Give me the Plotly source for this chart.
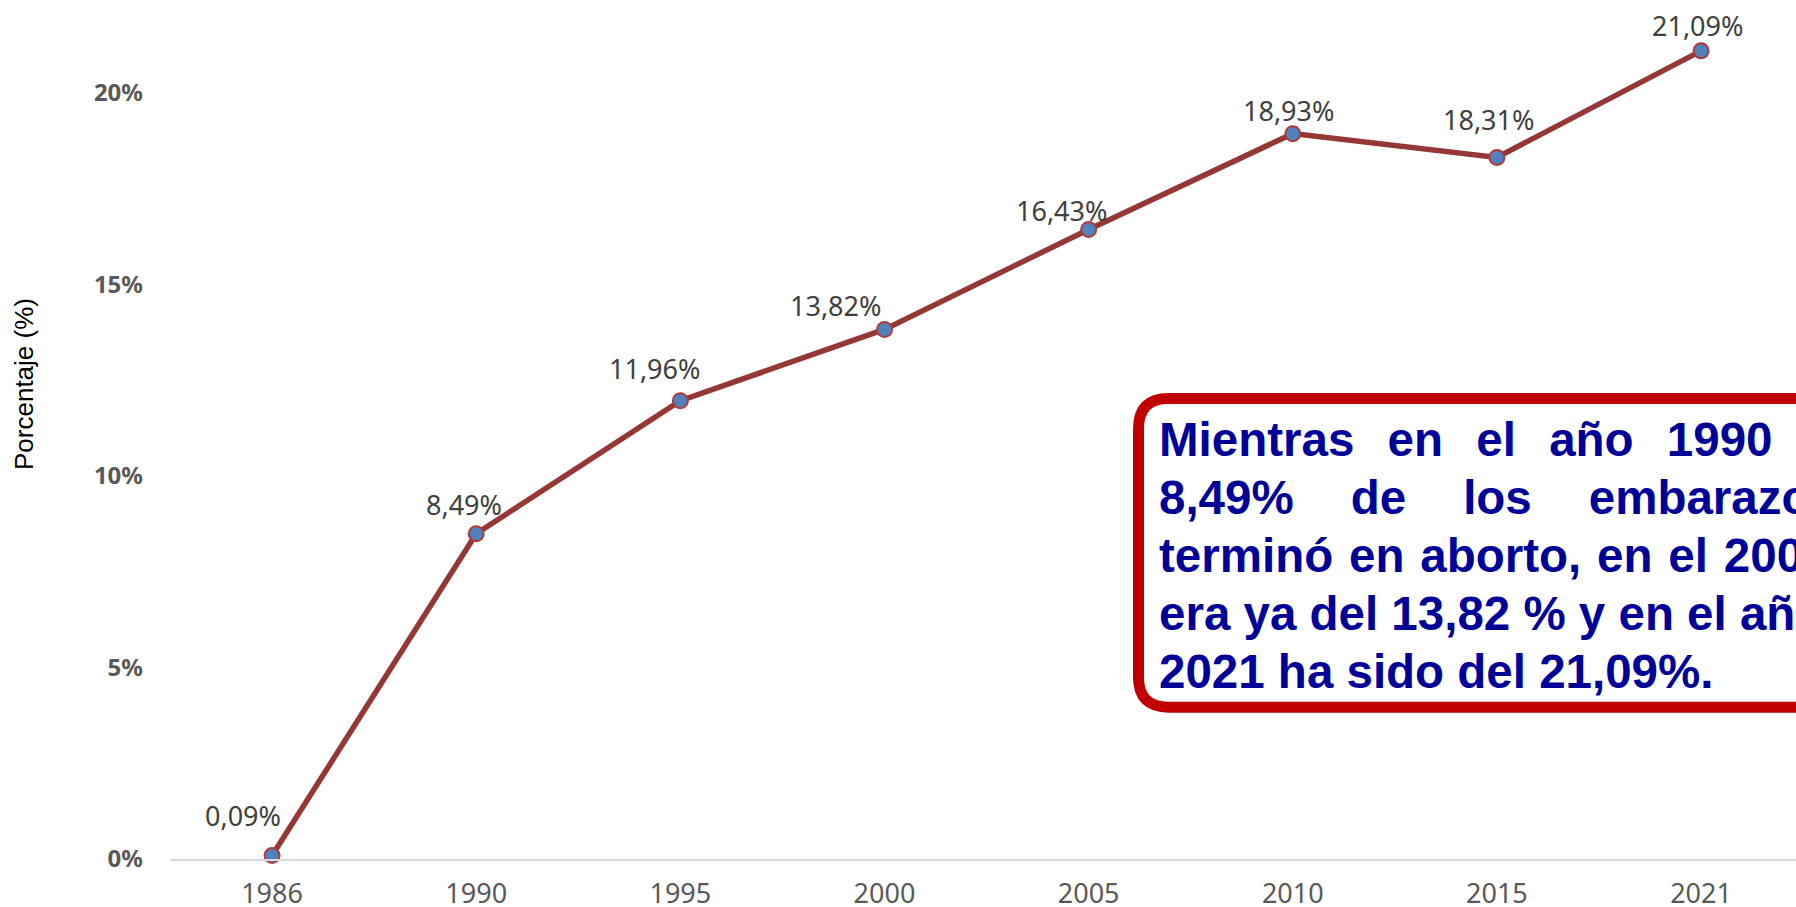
import plotly.graph_objects as go

# ---- data ----
years = ["1986", "1990", "1995", "2000", "2005", "2010", "2015", "2021"]
values = [0.09, 8.49, 11.96, 13.82, 16.43, 18.93, 18.31, 21.09]
y_ticks = [0, 5, 10, 15, 20]
y_title = "Porcentaje (%)"
box_lines = [
    "Mientras\u2002\u2009en\u2002\u2009el\u2002\u2009año\u2002\u20091990\u2002\u2009el",
    "8,49%\u2003\u2009de\u2003\u2009los\u2003\u2009embarazos",
    "terminó\u2004en\u2004aborto,\u2004en\u2004el\u20042000",
    "era ya del 13,82 % y en el año",
    "2021 ha sido del 21,09%.",
]

# ---- layout geometry (pixels) ----
W, H = 1796, 907
ML, MR, MT, MB = 170, 0, 16, 48
PW, PH = W - ML - MR, H - MT - MB


def px2x(px):
    return (px - ML) / PW


def px2y(py):
    return (H - MB - py) / PH


# label offsets (pixels, style only)
label_dx = [-29.5, -12.6, -26, -49, -27, -4, -8, -3.5]
label_dy = [39.6, 28.7, 32, 23.6, 18.6, 23.6, 38, 25.6]

fig = go.Figure()
fig.add_trace(go.Scatter(
    x=years, y=values, mode="lines+markers",
    line=dict(color="#953735", width=5.5),
    marker=dict(size=15, color="#4F81BD", line=dict(color="#B03A3A", width=2)),
    cliponaxis=False, hoverinfo="skip",
))

annotations = []
for i, (v, dx, dy) in enumerate(zip(values, label_dx, label_dy)):
    annotations.append(dict(
        x=i, y=v, xref="x", yref="y", showarrow=False,
        text=f"{v:.2f}".replace(".", ",") + "%",
        xshift=dx, yshift=dy, xanchor="center", yanchor="middle",
        font=dict(family="Noto Sans", size=27, color="#404040"),
    ))

# y-axis title
annotations.append(dict(
    x=px2x(24), y=px2y(384), xref="paper", yref="paper", showarrow=False,
    text=y_title, textangle=-90, xanchor="center", yanchor="middle",
    font=dict(family="Liberation Sans, Arial", size=26, color="#000000"),
))

# text box lines
baseline0 = 456
line_gap = 57.8
for i, t in enumerate(box_lines):
    b = baseline0 + i * line_gap
    annotations.append(dict(
        x=px2x(1157), y=px2y(b - 16), xref="paper", yref="paper", showarrow=False,
        text=t, xanchor="left", yanchor="middle", align="left",
        font=dict(family="Liberation Sans, Arial", size=47.5, color="#000099", weight="bold"),
    ))

# rounded box shape (paper coords)
L, T, B, R = 1138.5, 398.5, 707.2, 1900
rad = 30
def P(px, py):
    return f"{px2x(px):.5f},{px2y(py):.5f}"
path = (
    f"M {P(R, T)} L {P(L + rad, T)} Q {P(L, T)} {P(L, T + rad)} "
    f"L {P(L, B - rad)} Q {P(L, B)} {P(L + rad, B)} L {P(R, B)} Z"
)

fig.update_layout(
    width=W, height=H,
    margin=dict(l=ML, r=MR, t=MT, b=MB, autoexpand=False),
    paper_bgcolor="white", plot_bgcolor="white",
    showlegend=False,
    annotations=annotations,
    shapes=[dict(type="path", path=path, xref="paper", yref="paper",
                 line=dict(color="#C00000", width=11), fillcolor="white", layer="above")],
    xaxis=dict(
        type="category", range=[-0.5, 7.465], automargin=False,
        showgrid=False, zeroline=False,
        showline=True, linecolor="#D9D9D9", linewidth=2,
        ticks="", ticklabelstandoff=10,
        tickfont=dict(family="Noto Sans", size=27, color="#595959"),
    ),
    yaxis=dict(
        range=[0, 22], tickvals=y_ticks, ticktext=[f"{t}%" for t in y_ticks],
        automargin=False,
        showgrid=False, zeroline=False, showline=False,
        ticks="", ticklabelstandoff=26,
        tickfont=dict(family="Noto Sans", size=24, color="#595959", weight="bold"),
    ),
)

fig.write_html(
    "out.html",
    config={"displayModeBar": False},
    post_script="document.body.style.margin='0';document.body.style.overflow='hidden';",
)
